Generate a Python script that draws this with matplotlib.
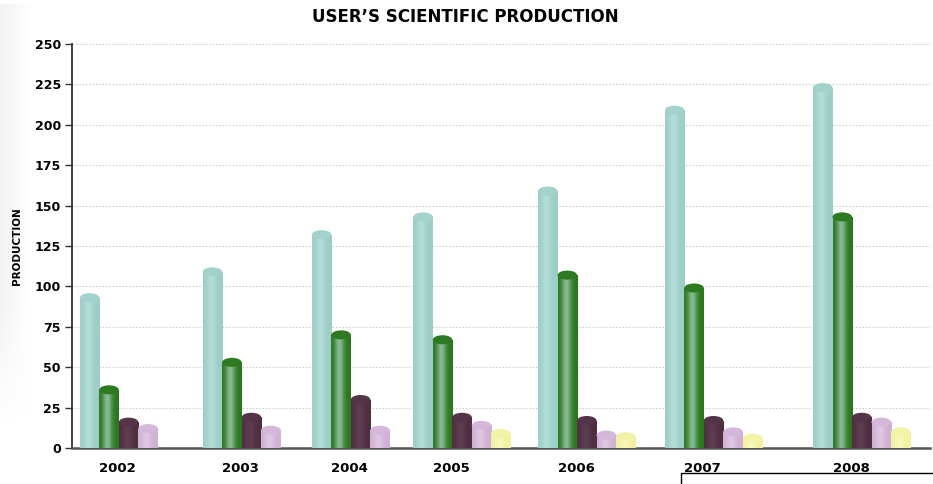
import numpy as np
import matplotlib
matplotlib.use("Agg")
import matplotlib.pyplot as plt
from matplotlib.patches import Ellipse, Rectangle
from matplotlib.lines import Line2D
from matplotlib.colors import to_rgb

years = ["2002", "2003", "2004", "2005", "2006", "2007", "2008"]
teal = [93, 109, 132, 143, 159, 209, 223]
green = [36, 53, 70, 67, 107, 99, 143]
purple = [16, 19, 30, 19, 17, 17, 19]
pink = [12, 11, 11, 14, 8, 10, 16]
yellow = [None, None, None, 9, 7, 6, 10]
series = [teal, green, purple, pink, yellow]

# layout: left edge of each year group, in bar slots
group_pos = [0.4, 6.7, 12.3, 17.5, 23.9, 30.4, 38.0]
label_off = 1.95

# (edge, highlight, cap) per series
styles = [
    ("#9ccec6", "#b3ddd7", "#a2d2cb"),
    ("#2a771c", "#86ba94", "#2e7a21"),
    ("#4e2f40", "#5e3d52", "#553348"),
    ("#d0b0d4", "#dfc8e2", "#d5b8d9"),
    ("#f1f19e", "#f8f8bc", "#f3f3a8"),
]

fig = plt.figure(figsize=(9.33, 4.84), dpi=100)
W, H = 933, 484

# faint shadow on the left edge
sh = fig.add_axes([0, 60 / H, 34 / W, 420 / H], zorder=0)
xs = np.linspace(0, 1, 60)
ys = np.linspace(0, 1, 200)
alpha = np.outer(np.clip(ys / 0.3, 0, 1), (1 - xs) ** 1.3) * 0.35
img = np.zeros((200, 60, 4))
img[..., :3] = 0.85
img[..., 3] = alpha
sh.imshow(img, origin="lower", aspect="auto", extent=[0, 1, 0, 1])
sh.axis("off")

ax = fig.add_axes([72 / W, 36 / H, 858 / W, 404 / H], zorder=1)
ax.set_xlim(0, 44)
ax.set_ylim(0, 250)
ax.patch.set_alpha(0)

ax.set_yticks(np.arange(0, 251, 25))
ax.yaxis.grid(True, linestyle=(0, (1.5, 1.5)), color="#cfcfcf", linewidth=0.8)
ax.set_axisbelow(True)
for s in ["top", "right"]:
    ax.spines[s].set_visible(False)
ax.spines["left"].set_color("#333333")
ax.spines["left"].set_linewidth(1.3)
ax.spines["bottom"].set_color("#555555")
ax.spines["bottom"].set_linewidth(1.8)
ax.tick_params(axis="y", length=5, width=1, color="#333333", pad=3, labelsize=9)
ax.tick_params(axis="x", length=0, pad=10, labelsize=9.5)
for lab in ax.get_yticklabels():
    lab.set_fontweight("bold")

bw = 1.0
eh = 5.6  # ellipse height in data units


def gradient(c_edge, c_hl, n=64):
    t = np.linspace(0, 1, n)
    w = np.exp(-((t - 0.42) / 0.24) ** 2)
    e = np.array(to_rgb(c_edge))
    h = np.array(to_rgb(c_hl))
    return (e[None, :] + (h - e)[None, :] * w[:, None])[None, :, :]


for gi, g0 in enumerate(group_pos):
    for si, vals in enumerate(series):
        v = vals[gi]
        if v is None:
            continue
        edge, hl, cap = styles[si]
        x0 = g0 + si * 1.0
        xc = x0 + bw / 2
        ax.add_patch(Ellipse((xc, 0), bw, eh, color=edge, zorder=3, lw=0))
        body = Rectangle((x0, 0), bw, v, transform=ax.transData)
        im = ax.imshow(gradient(edge, hl), extent=[x0, x0 + bw, 0, v],
                       aspect="auto", zorder=4, interpolation="bilinear")
        im.set_clip_path(body)
        ax.add_patch(Ellipse((xc, v), bw, eh, color=cap, zorder=5, lw=0))

ax.set_xlim(0, 44)
ax.set_ylim(0, 250)
ax.set_xticks([g + label_off for g in group_pos])
ax.set_xticklabels(years, fontweight="bold")

ax.set_ylabel("PRODUCTION", fontsize=7.5, fontweight="bold", labelpad=9)

fig.text(465 / W, 1 - 17 / H, "USER\u2019S SCIENTIFIC PRODUCTION",
         ha="center", va="center", fontsize=12, fontweight="bold")

# partially visible legend frame at bottom right
fig.add_artist(Line2D([681 / W, 681 / W, 1.0], [0, 11 / H, 11 / H],
                      transform=fig.transFigure, color="black", lw=1))

fig.savefig("out.png", dpi=100)
